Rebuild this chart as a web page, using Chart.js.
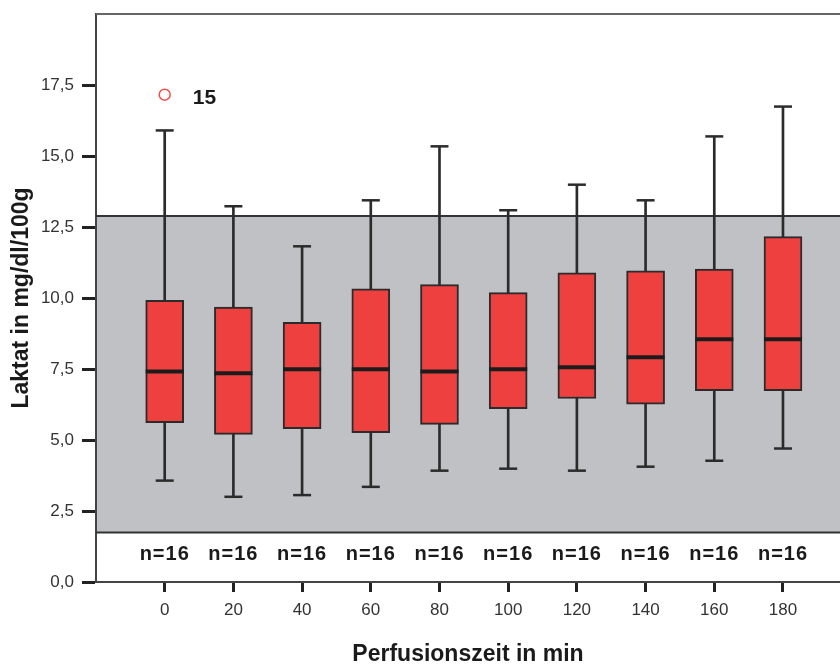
<!DOCTYPE html>
<html>
<head>
<meta charset="utf-8">
<script src="https://cdn.jsdelivr.net/npm/chart.js@4/dist/chart.umd.min.js"></script>
<style>
  html, body { margin: 0; padding: 0; background: #ffffff; overflow: hidden; }
  canvas { display: block; }
</style>
</head>
<body>
<canvas id="chart" width="840" height="666"></canvas>
<script>
// Perfusion time points (min)
const times = ['0', '20', '40', '60', '80', '100', '120', '140', '160', '180'];
// Box plot statistics of lactate (mg/dl/100g)
const whiskerLow  = [3.57, 3.00, 3.06, 3.35, 3.92, 3.99, 3.92, 4.06, 4.27, 4.70];
const quartile1   = [5.61, 5.20, 5.40, 5.26, 5.55, 6.10, 6.46, 6.26, 6.74, 6.74];
const medians     = [7.41, 7.35, 7.49, 7.49, 7.41, 7.49, 7.56, 7.91, 8.55, 8.55];
const quartile3   = [9.92, 9.68, 9.14, 10.32, 10.47, 10.19, 10.89, 10.96, 11.02, 12.16];
const whiskerHigh = [15.90, 13.23, 11.82, 13.44, 15.34, 13.09, 13.99, 13.44, 15.69, 16.74];
const sampleSizes = [16, 16, 16, 16, 16, 16, 16, 16, 16, 16];
// Outliers: time index, value, case number
const outlierIndex = [0];
const outlierValue = [17.16];
const outlierCase  = ['15'];
// Reference range shaded behind the boxes
const referenceRange = [1.74, 12.89];
// Y-axis ticks
const yTicks = [0, 2.5, 5, 7.5, 10, 12.5, 15, 17.5];

const INK = '#2b2b2b';
const FONT = "'Liberation Sans', Arial, sans-serif";

const byIndex = (arr) => arr.map((v, i) => ({ x: i, y: v }));

// Shaded reference band, frame line and text annotations
const annotations = {
  id: 'annotations',
  beforeDatasetsDraw(chart) {
    const { ctx, chartArea: a, scales: { y } } = chart;
    const yHi = y.getPixelForValue(referenceRange[1]);
    const yLo = y.getPixelForValue(referenceRange[0]);
    ctx.save();
    ctx.fillStyle = '#c0c1c5';
    ctx.fillRect(a.left + 1, yHi, a.right - a.left, yLo - yHi);
    ctx.strokeStyle = '#333333';
    ctx.lineWidth = 2;
    ctx.beginPath();
    ctx.moveTo(a.left, yHi); ctx.lineTo(a.right, yHi);
    ctx.moveTo(a.left, yLo); ctx.lineTo(a.right, yLo);
    ctx.stroke();
    // top frame
    ctx.strokeStyle = '#666666';
    ctx.beginPath();
    ctx.moveTo(a.left, a.top); ctx.lineTo(a.right, a.top);
    ctx.stroke();
    ctx.restore();
  },
  afterDatasetsDraw(chart) {
    const { ctx, scales: { x, y } } = chart;
    ctx.save();
    ctx.fillStyle = '#1a1a1a';
    // sample sizes
    ctx.font = 'bold 20px ' + FONT;
    ctx.letterSpacing = '1px';
    ctx.textAlign = 'center';
    ctx.textBaseline = 'alphabetic';
    const base = y.getPixelForValue(referenceRange[0]) + 27;
    sampleSizes.forEach((n, i) => {
      ctx.fillText('n=' + n, x.getPixelForValue(i), base);
    });
    // outlier case numbers
    ctx.letterSpacing = '0px';
    ctx.font = 'bold 21px ' + FONT;
    ctx.textAlign = 'left';
    outlierCase.forEach((c, k) => {
      ctx.fillText(c, x.getPixelForValue(outlierIndex[k]) + 28, y.getPixelForValue(outlierValue[k]) + 9);
    });
    ctx.restore();
  }
};

new Chart(document.getElementById('chart'), {
  type: 'bar',
  data: {
    datasets: [
      {
        type: 'scatter', label: 'Median', order: 0,
        data: byIndex(medians),
        pointStyle: 'line', pointRadius: 19, pointBorderWidth: 4,
        borderColor: '#1c1c1c', backgroundColor: '#1c1c1c'
      },
      {
        type: 'scatter', label: 'Ausreißer', order: 0,
        data: outlierIndex.map((i, k) => ({ x: i, y: outlierValue[k] })),
        pointStyle: 'circle', pointRadius: 5.5, pointBorderWidth: 1.5,
        borderColor: '#f04a4a', backgroundColor: '#ffffff'
      },
      {
        type: 'scatter', label: 'Maximum', order: 1,
        data: byIndex(whiskerHigh),
        pointStyle: 'line', pointRadius: 9, pointBorderWidth: 2.5,
        borderColor: INK
      },
      {
        type: 'scatter', label: 'Minimum', order: 1,
        data: byIndex(whiskerLow),
        pointStyle: 'line', pointRadius: 9, pointBorderWidth: 2.5,
        borderColor: INK
      },
      {
        type: 'bar', label: 'Quartile', order: 2,
        data: quartile1.map((q, i) => ({ x: i, y: [q, quartile3[i]] })),
        barThickness: 38, grouped: false,
        backgroundColor: '#ee413f', borderColor: INK,
        borderWidth: 2, borderSkipped: false
      },
      {
        type: 'bar', label: 'Whisker', order: 3,
        data: whiskerLow.map((v, i) => ({ x: i, y: [v, whiskerHigh[i]] })),
        barThickness: 2, grouped: false,
        backgroundColor: INK, borderWidth: 0
      }
    ]
  },
  options: {
    responsive: false,
    animation: false,
    events: [],
    layout: { autoPadding: false, padding: { top: 14, left: 0, right: 0, bottom: 0 } },
    plugins: { legend: { display: false }, tooltip: { enabled: false } },
    scales: {
      x: {
        type: 'linear',
        offset: false,
        min: -1, max: 9.83,
        afterBuildTicks: (s) => { s.ticks = times.map((_, i) => ({ value: i })); },
        afterFit: (s) => { s.height = 84; s.paddingLeft = 0; s.paddingRight = 0; },
        ticks: {
          autoSkip: false, maxRotation: 0, padding: 8,
          color: '#333333', font: { family: FONT, size: 17 },
          callback: (v) => times[v] ?? ''
        },
        grid: {
          offset: false,
          drawOnChartArea: false, drawTicks: true,
          tickLength: 10, tickWidth: 3, tickColor: '#222222'
        },
        border: { display: true, color: '#444444', width: 2 },
        title: {
          display: true, text: 'Perfusionszeit in min',
          color: '#1a1a1a', font: { family: FONT, size: 23, weight: 'bold', lineHeight: 1 },
          padding: { top: 0, bottom: 0 }
        }
      },
      y: {
        min: 0, max: 20,
        afterBuildTicks: (s) => { s.ticks = yTicks.map((v) => ({ value: v })); },
        afterFit: (s) => { s.width = 96; s.paddingTop = 0; s.paddingBottom = 0; },
        ticks: {
          padding: 8, color: '#333333', font: { family: FONT, size: 17 },
          callback: (v) => v.toFixed(1).replace('.', ',')
        },
        grid: {
          drawOnChartArea: false, drawTicks: true,
          tickLength: 14, tickWidth: 3, tickColor: '#222222'
        },
        border: { display: true, color: '#444444', width: 2 },
        title: {
          display: true, text: 'Laktat in mg/dl/100g',
          color: '#1a1a1a', font: { family: FONT, size: 23, weight: 'bold', lineHeight: 1 },
          padding: { top: 10, bottom: 0 }
        }
      }
    }
  },
  plugins: [annotations]
});
</script>
</body>
</html>
